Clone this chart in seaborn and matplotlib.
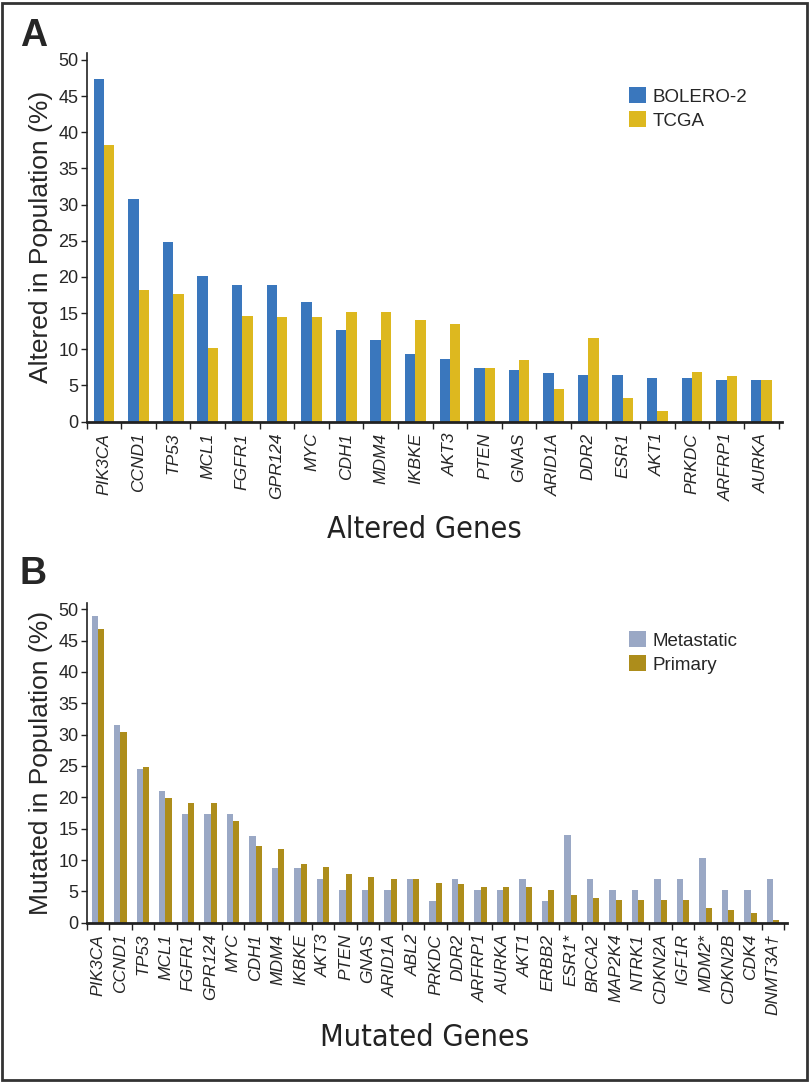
import pandas as pd
import matplotlib.pyplot as plt
import seaborn as sns
from matplotlib.patches import Rectangle

# Panel A data
genes_a = ["PIK3CA", "CCND1", "TP53", "MCL1", "FGFR1", "GPR124", "MYC", "CDH1", "MDM4", "IKBKE",
           "AKT3", "PTEN", "GNAS", "ARID1A", "DDR2", "ESR1", "AKT1", "PRKDC", "ARFRP1", "AURKA"]
bolero2 = [47.4, 30.8, 24.9, 20.2, 18.9, 18.9, 16.6, 12.7, 11.3, 9.4,
           8.7, 7.4, 7.1, 6.7, 6.4, 6.4, 6.0, 6.0, 5.8, 5.8]
tcga = [38.3, 18.2, 17.6, 10.2, 14.6, 14.4, 14.4, 15.2, 15.2, 14.0,
        13.5, 7.4, 8.5, 4.5, 11.6, 3.3, 1.5, 6.9, 6.3, 5.7]

# Panel B data
genes_b = ["PIK3CA", "CCND1", "TP53", "MCL1", "FGFR1", "GPR124", "MYC", "CDH1", "MDM4", "IKBKE",
           "AKT3", "PTEN", "GNAS", "ARID1A", "ABL2", "PRKDC", "DDR2", "ARFRP1", "AURKA", "AKT1",
           "ERBB2", "ESR1*", "BRCA2", "MAP2K4", "NTRK1", "CDKN2A", "IGF1R", "MDM2*", "CDKN2B",
           "CDK4", "DNMT3A\u2020"]
metastatic = [49.0, 31.5, 24.5, 21.0, 17.4, 17.4, 17.4, 13.9, 8.7, 8.7,
              7.0, 5.2, 5.2, 5.2, 7.0, 3.5, 7.0, 5.2, 5.2, 7.0,
              3.5, 14.0, 7.0, 5.2, 5.2, 7.0, 7.0, 10.4, 5.2, 5.2, 7.0]
primary = [46.8, 30.5, 24.8, 19.9, 19.1, 19.1, 16.3, 12.2, 11.8, 9.4,
           8.9, 7.7, 7.3, 6.9, 6.9, 6.4, 6.1, 5.7, 5.7, 5.7,
           5.3, 4.4, 4.0, 3.6, 3.6, 3.6, 3.6, 2.4, 2.0, 1.6, 0.4]

df_a = pd.DataFrame({
    "gene": genes_a * 2,
    "value": bolero2 + tcga,
    "group": ["BOLERO-2"] * len(genes_a) + ["TCGA"] * len(genes_a),
})
df_b = pd.DataFrame({
    "gene": genes_b * 2,
    "value": metastatic + primary,
    "group": ["Metastatic"] * len(genes_b) + ["Primary"] * len(genes_b),
})

sns.set_theme(style="ticks")
plt.rcParams["font.family"] = ["Liberation Sans", "DejaVu Sans"]

fig = plt.figure(figsize=(8.09, 10.82), dpi=100)
ax_a = fig.add_axes([0.1072, 0.6103, 0.8594, 0.341])
ax_b = fig.add_axes([0.1072, 0.1472, 0.8652, 0.2955])

sns.barplot(data=df_a, x="gene", y="value", hue="group", palette=["#3A77BD", "#DDB81F"],
            width=0.6, saturation=1, linewidth=0, ax=ax_a)
sns.barplot(data=df_b, x="gene", y="value", hue="group", palette=["#9AA8C5", "#AD8D1B"],
            width=0.55, saturation=1, linewidth=0, ax=ax_b)


def style_axis(ax, genes, xmax, ylabel, xlabel, xlabel_y, legend_xy):
    n = len(genes)
    ax.set_xlim(-0.5, xmax)
    ax.set_ylim(0, 51)
    ax.set_yticks(range(0, 51, 5))
    ax.tick_params(axis="y", labelsize=13, length=4, width=1, pad=2, color="#222222")
    ax.set_xticks([i - 0.5 for i in range(n + 1)])
    ax.set_xticklabels([])
    ax.tick_params(axis="x", which="major", length=5, width=1, color="#222222")
    ax.set_xticks(range(n), minor=True)
    ax.set_xticklabels(genes, minor=True, rotation=90, fontstyle="italic", fontsize=12.5,
                       ha="center", va="top")
    ax.tick_params(axis="x", which="minor", length=0, pad=8)
    for side in ["top", "right"]:
        ax.spines[side].set_visible(False)
    ax.spines["left"].set_linewidth(1.2)
    ax.spines["bottom"].set_linewidth(2)
    ax.spines["left"].set_color("#222222")
    ax.spines["bottom"].set_color("#222222")
    ax.set_ylabel(ylabel, fontsize=19, labelpad=4)
    ax.set_xlabel("")
    fig.text(0.525, xlabel_y, xlabel, fontsize=22, fontstretch="condensed",
             family="DejaVu Sans", ha="center", va="center", color="#222222")
    handles, labels = ax.get_legend_handles_labels()
    ax.legend(handles, labels, loc="upper left", bbox_to_anchor=legend_xy,
              bbox_transform=fig.transFigure, frameon=False, fontsize=13.5,
              handlelength=0.9, handleheight=0.9, handletextpad=0.35,
              borderpad=0, labelspacing=0.3)


style_axis(ax_a, genes_a, 19.6, "Altered in Population (%)", "Altered Genes",
           1 - 529 / 1082, (620 / 809, 1 - 78 / 1082))
style_axis(ax_b, genes_b, 30.6, "Mutated in Population (%)", "Mutated Genes",
           1 - 1037 / 1082, (620 / 809, 1 - 622 / 1082))

fig.text(20 / 809, 1 - 36 / 1082, "A", fontsize=27, fontweight="bold", ha="left", va="center")
fig.text(20 / 809, 1 - 574 / 1082, "B", fontsize=27, fontweight="bold", ha="left", va="center")

fig.patches.append(Rectangle((0.002, 0.002), 0.996, 0.995, transform=fig.transFigure,
                             fill=False, edgecolor="#333333", linewidth=2))

fig.savefig("out.png", dpi=100)
